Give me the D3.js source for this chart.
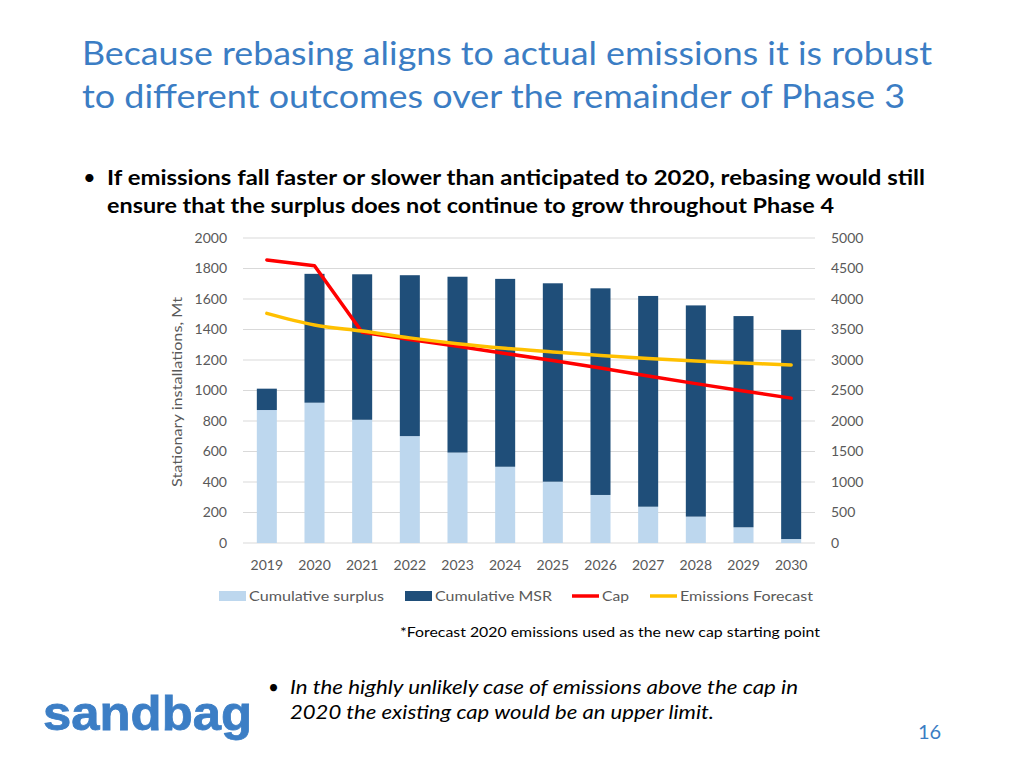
<!DOCTYPE html>
<html><head><meta charset="utf-8">
<script src="https://cdn.jsdelivr.net/npm/d3@7"></script>
<style>body{margin:0;background:#fff}svg{display:block}</style>
</head><body>
<script>
const years = ["2019","2020","2021","2022","2023","2024","2025","2026","2027","2028","2029","2030"];
const surplus = [872, 920, 808, 701, 593, 500, 402, 315, 238, 173, 103, 26];
const msr = [140, 845, 954, 1055, 1153, 1232, 1301, 1355, 1382, 1385, 1385, 1371];
const cap = [1856, 1818, 1382, 1335, 1290, 1243, 1197, 1148, 1095, 1045, 997, 950];
const emissions = [1506, 1430, 1390, 1345, 1307, 1277, 1253, 1230, 1210, 1193, 1180, 1167];
const leftTicks = [0,200,400,600,800,1000,1200,1400,1600,1800,2000];
const rightTicks = [0,500,1000,1500,2000,2500,3000,3500,4000,4500,5000];

const W=1024,H=768;
const svg=d3.select("body").append("svg").attr("width",W).attr("height",H);
const F="Lato,'Open Sans',sans-serif";
const blue="#3B7DC4";

// Title
const title=["Because rebasing aligns to actual emissions it is robust","to different outcomes over the remainder of Phase 3"];
const tw=[850,823];
title.forEach((t,i)=>svg.append("text").attr("x",82).attr("y",65+i*43).attr("font-family",F)
  .attr("font-size",33).attr("fill",blue).attr("textLength",tw[i]).attr("lengthAdjust","spacingAndGlyphs").text(t));

// Bullet
svg.append("text").attr("x",83).attr("y",185).attr("font-family",F).attr("font-size",22).attr("fill","#000").text("•");
const bl=["If emissions fall faster or slower than anticipated to 2020, rebasing would still","ensure that the surplus does not continue to grow throughout Phase 4"];
const bw=[818,727];
bl.forEach((t,i)=>svg.append("text").attr("x",107).attr("y",185+i*28).attr("font-family",F).attr("font-weight","bold")
  .attr("font-size",21).attr("fill","#000").attr("textLength",bw[i]).attr("lengthAdjust","spacingAndGlyphs").text(t));

// Chart
const x=d3.scaleBand().domain(years).range([243,815]).paddingInner(0.58).paddingOuter(0.29);
const y=d3.scaleLinear().domain([0,2000]).range([543,238]);
const y2=d3.scaleLinear().domain([0,5000]).range([543,238]);
const g=svg.append("g");

g.selectAll(".grid").data(leftTicks).join("line").attr("x1",243).attr("x2",815)
  .attr("y1",d=>y(d)).attr("y2",d=>y(d)).attr("stroke","#d9d9d9").attr("stroke-width",1);

const fmt=d3.format("d");
const axL=d3.axisLeft(y).tickValues(leftTicks).tickFormat(fmt).tickSize(0).tickPadding(0);
const gl=g.append("g").attr("transform","translate(227,0)").call(axL);
gl.select(".domain").remove();
gl.selectAll("text").attr("font-family",F).attr("font-size",14).attr("fill","#595959");

const axR=d3.axisRight(y2).tickValues(rightTicks).tickFormat(fmt).tickSize(0).tickPadding(0);
const gr=g.append("g").attr("transform","translate(831,0)").call(axR);
gr.select(".domain").remove();
gr.selectAll("text").attr("font-family",F).attr("font-size",14).attr("fill","#595959");

const axB=d3.axisBottom(x).tickSize(0).tickPadding(0);
const gb=g.append("g").attr("transform","translate(0,560)").call(axB);
gb.select(".domain").remove();
gb.selectAll("text").attr("font-family",F).attr("font-size",14).attr("fill","#595959");

// Y title
svg.append("text").attr("transform","translate(182,392) rotate(-90)").attr("text-anchor","middle")
  .attr("font-family",F).attr("font-size",14).attr("fill","#595959")
  .attr("textLength",190).attr("lengthAdjust","spacingAndGlyphs").text("Stationary installations, Mt");

// bars
g.selectAll(".s").data(years).join("rect").attr("x",d=>x(d)).attr("width",x.bandwidth())
  .attr("y",(d,i)=>y(surplus[i])).attr("height",(d,i)=>y(0)-y(surplus[i])).attr("fill","#BDD7EE");
g.selectAll(".m").data(years).join("rect").attr("x",d=>x(d)).attr("width",x.bandwidth())
  .attr("y",(d,i)=>y(surplus[i]+msr[i])).attr("height",(d,i)=>y(surplus[i])-y(surplus[i]+msr[i])).attr("fill","#1F4E79");

const cx=d=>x(d)+x.bandwidth()/2;
const lineCap=d3.line().x((d,i)=>cx(years[i])).y(d=>y(d));
const lineEm=d3.line().x((d,i)=>cx(years[i])).y(d=>y(d)).curve(d3.curveMonotoneX);
g.append("path").attr("d",lineCap(cap)).attr("fill","none").attr("stroke","#FF0000").attr("stroke-width",3.5).attr("stroke-linejoin","round").attr("stroke-linecap","round");
g.append("path").attr("d",lineEm(emissions)).attr("fill","none").attr("stroke","#FFC000").attr("stroke-width",3.5).attr("stroke-linecap","round");

// Legend
const leg=[
 {t:"Cumulative surplus",type:"rect",c:"#BDD7EE",x:219,w:135},
 {t:"Cumulative MSR",type:"rect",c:"#1F4E79",x:405,w:117},
 {t:"Cap",type:"line",c:"#FF0000",x:572,w:27},
 {t:"Emissions Forecast",type:"line",c:"#FFC000",x:650,w:133}
];
leg.forEach(l=>{
  if(l.type==="rect") svg.append("rect").attr("x",l.x).attr("y",591).attr("width",27).attr("height",10).attr("fill",l.c);
  else svg.append("line").attr("x1",l.x).attr("x2",l.x+27).attr("y1",596).attr("y2",596).attr("stroke",l.c).attr("stroke-width",3.5);
  svg.append("text").attr("x",l.x+30).attr("y",601).attr("font-family",F).attr("font-size",14).attr("fill","#595959")
    .attr("textLength",l.w).attr("lengthAdjust","spacingAndGlyphs").text(l.t);
});

// Footnote
svg.append("text").attr("x",400).attr("y",637).attr("font-family",F).attr("font-size",14).attr("fill","#000")
  .attr("textLength",420).attr("lengthAdjust","spacingAndGlyphs").text("*Forecast 2020 emissions used as the new cap starting point");

// Bottom bullet
svg.append("text").attr("x",268).attr("y",694).attr("font-family",F).attr("font-size",19).attr("fill","#000").text("•");
const bb=["In the highly unlikely case of emissions above the cap in","2020 the existing cap would be an upper limit."];
const bbw=[508,424];
bb.forEach((t,i)=>svg.append("text").attr("x",290).attr("y",694+i*25).attr("font-family",F).attr("font-style","italic")
  .attr("font-size",19).attr("fill","#000").attr("textLength",bbw[i]).attr("lengthAdjust","spacingAndGlyphs").text(t));

// Logo
svg.append("text").attr("x",43).attr("y",730).attr("font-family","'Liberation Sans',Arial,sans-serif").attr("font-weight","bold")
  .attr("font-size",49).attr("fill","#3C7EC5").attr("stroke","#3C7EC5").attr("stroke-width",0.8)
  .attr("textLength",209).attr("lengthAdjust","spacingAndGlyphs").text("sandbag");

// Page number
svg.append("text").attr("x",918).attr("y",739).attr("font-family",F).attr("font-size",20).attr("fill",blue).text("16");
</script>
</body></html>
